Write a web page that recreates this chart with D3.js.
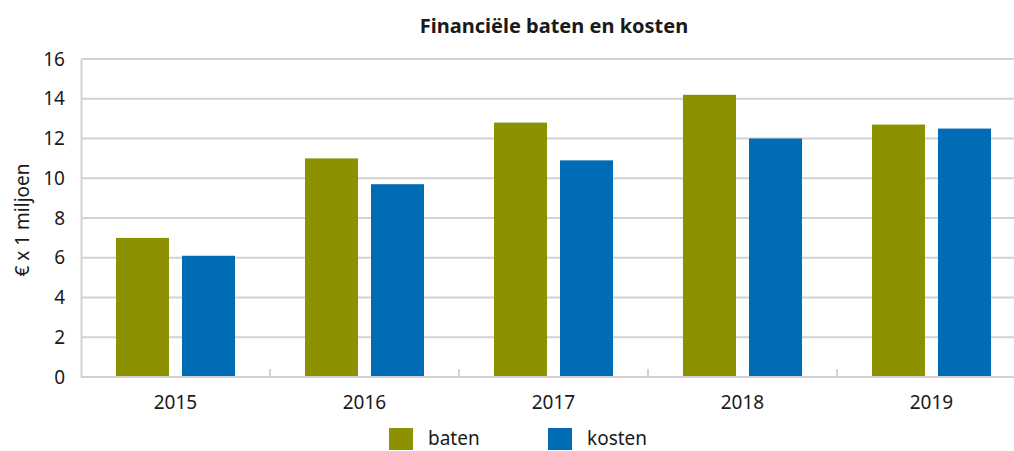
<!DOCTYPE html>
<html>
<head>
<meta charset="utf-8">
<script src="https://cdn.jsdelivr.net/npm/d3@7"></script>
<style>
  body { margin: 0; background: white; }
  svg text { font-family: "Noto Sans", "Open Sans", sans-serif; fill: #1a1a1a; }
</style>
</head>
<body>
<div id="d3-container"></div>
<script>
// chart data
var years = ['2015', '2016', '2017', '2018', '2019'];
var baten = [7.0, 11.0, 12.8, 14.2, 12.7];
var kosten = [6.1, 9.7, 10.9, 12.0, 12.5];
var yTicks = [0, 2, 4, 6, 8, 10, 12, 14, 16];
var seriesNames = ['baten', 'kosten'];
var seriesColors = ['#8c9100', '#006cb5'];

var width = 1014;
var height = 451;
var margin = { top: 59, bottom: 74, left: 81, right: -12 };

var svg = d3.select('#d3-container')
    .append('svg')
    .attr('width', width)
    .attr('height', height)
    .style('background', 'white');

var x = d3.scaleBand()
    .domain(years)
    .range([margin.left, width - margin.right]);

var xInner = d3.scaleBand()
    .domain(seriesNames)
    .range([0, x.bandwidth()])
    .paddingInner(0.197)
    .paddingOuter(0.53);

var y = d3.scaleLinear()
    .domain([0, 16])
    .range([height - margin.bottom, margin.top]);

// gridlines
svg.append('g')
   .selectAll('line')
   .data(yTicks.slice(1))
   .join('line')
   .attr('x1', margin.left)
   .attr('x2', width - margin.right)
   .attr('y1', d => y(d))
   .attr('y2', d => y(d))
   .attr('stroke', '#d2d2d2')
   .attr('stroke-width', 2);

// y axis
function yAxis(g){
    g.attr('transform', `translate(${margin.left}, 0)`)
     .call(d3.axisLeft(y).tickValues(yTicks).tickSize(0).tickPadding(16))
    g.select('.domain').attr('stroke', '#d2d2d2').attr('stroke-width', 2)
    g.selectAll('text').attr('font-size', '19px').attr('font-family', null)
}
svg.append('g').call(yAxis)

// bars
var rows = years.map((yr, i) => ({ year: yr, values: [
    { key: 'baten', value: baten[i] },
    { key: 'kosten', value: kosten[i] }
]}));

svg.append('g')
   .selectAll('g')
   .data(rows)
   .join('g')
   .attr('transform', d => `translate(${x(d.year)},0)`)
   .selectAll('rect')
   .data(d => d.values)
   .join('rect')
   .attr('x', d => xInner(d.key))
   .attr('y', d => y(d.value))
   .attr('width', xInner.bandwidth())
   .attr('height', d => y(0) - y(d.value))
   .attr('fill', d => seriesColors[seriesNames.indexOf(d.key)]);

// x axis
function xAxis(g){
    g.attr('transform', `translate(0, ${y(0)})`)
    g.append('line')
     .attr('x1', margin.left).attr('x2', width - margin.right)
     .attr('stroke', '#d2d2d2').attr('stroke-width', 2)
    g.selectAll('.tick')
     .data(years.slice(1))
     .join('line')
     .attr('class', 'tick')
     .attr('x1', d => x(d)).attr('x2', d => x(d))
     .attr('y1', 0).attr('y2', -8)
     .attr('stroke', '#d2d2d2').attr('stroke-width', 2)
    g.selectAll('.lbl')
     .data(years)
     .join('text')
     .attr('class', 'lbl')
     .attr('x', d => x(d) + x.bandwidth() / 2)
     .attr('y', 32)
     .attr('text-anchor', 'middle')
     .attr('font-size', '19px')
     .text(d => d)
}
svg.append('g').call(xAxis)

// title
svg.append('text')
   .attr('x', 554)
   .attr('y', 33)
   .attr('text-anchor', 'middle')
   .attr('font-size', '20px')
   .attr('font-weight', 'bold')
   .text('Financiële baten en kosten')

// y label
svg.append('text')
   .attr('transform', 'rotate(-90)')
   .attr('x', -220)
   .attr('y', 29)
   .attr('text-anchor', 'middle')
   .attr('font-size', '19px')
   .text('€ x 1 miljoen')

// legend
var legendX = [389, 548];
var legend = svg.append('g')
   .selectAll('g')
   .data(seriesNames)
   .join('g')
   .attr('transform', (d, i) => `translate(${legendX[i]}, 428)`);

legend.append('rect')
   .attr('width', 24)
   .attr('height', 22)
   .attr('fill', (d, i) => seriesColors[i]);

legend.append('text')
   .attr('x', 39)
   .attr('y', 17)
   .attr('font-size', '19px')
   .text(d => d);
</script>
</body>
</html>
